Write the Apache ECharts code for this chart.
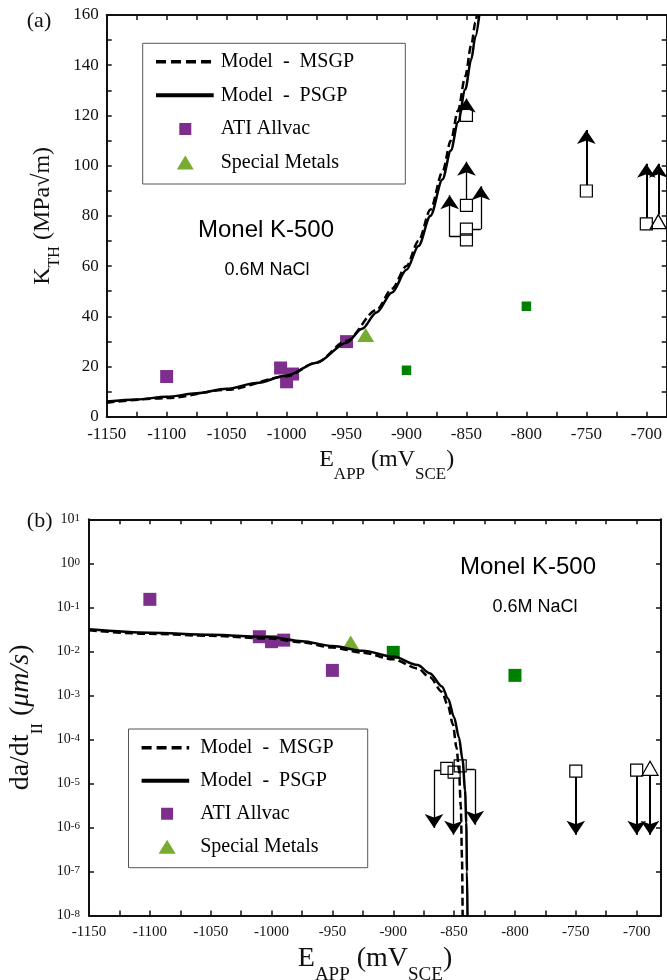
<!DOCTYPE html>
<html lang="en">
<head>
<meta charset="UTF-8">
<title>Monel K-500 - K_TH and da/dt_II vs E_APP</title>
<style>html,body{margin:0;padding:0;background:#fff;}</style>
</head>
<body>
<div id="main" style="width:667px;height:980px"></div>
<script src="https://cdn.jsdelivr.net/npm/echarts@6/dist/echarts.min.js"></script>
<script>
// ---------- panel (a): threshold K_TH vs applied potential ----------
var kMsgpX = [-1150, -1100, -1050, -1000, -975, -950, -925, -912, -900, -890, -880, -870, -863, -857, -851, -846, -842.5, -841.3];
var kMsgpY = [5.6, 7.4, 10.7, 16.1, 21.6, 30.2, 42.5, 51, 60, 70, 82.5, 97.5, 110, 122, 135.5, 148, 157, 160];
var kPsgpX = [-1150, -1125, -1100, -1075, -1050, -1025, -1000, -975, -950, -937, -925, -912, -900, -890, -880, -870, -863, -857, -851, -846, -842.5, -839.3];
var kPsgpY = [6.1, 6.9, 7.9, 9.3, 11.1, 13.4, 16.4, 21.5, 29.5, 35, 41.5, 49.5, 58.5, 68, 80, 94.5, 106, 117.4, 130.3, 142.3, 151.4, 160];

var kAllvacX = [-1100, -1005, -1000, -995, -950];
var kAllvacY = [16, 19.4, 13.9, 17, 29.9];
var kSpecialX = [-934];
var kSpecialY = [32.5];
var kGreenX = [-900, -800];
var kGreenY = [18.5, 44];
var kOpenX = [-850, -850, -850, -850, -750, -700];
var kOpenY = [120, 84.2, 74.7, 70.4, 89.9, 76.8];
var kOpenTriX = [-690];
var kOpenTriY = [77.7];

// run-out arrows (K_TH is a lower bound)
var kArrowX = [-850, -850, -864, -838, -750, -700, -690];
var kArrowFrom = [122.4, 86.6, 71.7, 74.7, 92.3, 79.2, 80.5];
var kArrowTo = [126.7, 101.5, 88.2, 91.8, 114.2, 100.8, 100.8];
var kLinkY = [71.7, 74.7];
var kLinkFrom = [-864, -845];
var kLinkTo = [-855, -838];

// ---------- panel (b): stage II crack growth rate ----------
var dMsgpX = [-1150, -1100, -1050, -1000, -975, -950, -925, -900, -880, -870, -860, -855, -851, -848, -846, -844.5, -843.5, -843];
var dMsgpY = [0.030, 0.025, 0.0225, 0.0195, 0.016, 0.0122, 0.0093, 0.0066, 0.0041, 0.0026, 0.0012, 5.8e-4, 2.2e-4, 6.5e-5, 2e-5, 3e-6, 2e-7, 1e-8];
var dPsgpX = [-1150, -1100, -1050, -1000, -975, -950, -925, -900, -880, -870, -860, -855, -850, -846, -843, -841, -840, -839.4, -839];
var dPsgpY = [0.0316, 0.0265, 0.0237, 0.021, 0.017, 0.0132, 0.0103, 0.0076, 0.0049, 0.0032, 0.0016, 8.5e-4, 3.2e-4, 1.1e-4, 3.4e-5, 7e-6, 1.3e-6, 1e-7, 1e-8];

var dAllvacX = [-1100, -1010, -1000, -990, -950];
var dAllvacY = [0.152, 0.0215, 0.0166, 0.018, 0.0037];
var dSpecialX = [-935];
var dSpecialY = [0.016];
var dGreenX = [-900, -800];
var dGreenY = [0.0095, 0.00285];
var dOpenX = [-856, -850, -845, -750, -700];
var dOpenY = [2.2e-5, 1.8e-5, 2.5e-5, 1.9e-5, 2e-5];
var dOpenTriX = [-689];
var dOpenTriY = [2.2e-5];

// arrows: growth rate is an upper bound
var dArrowX = [-866.5, -850.5, -833, -750, -700, -689];
var dArrowFrom = [2e-5, 1.3e-5, 2.1e-5, 1.4e-5, 1.45e-5, 1.5e-5];
var dArrowTo = [9.7e-7, 6.8e-7, 1.15e-6, 6.8e-7, 6.8e-7, 6.8e-7];
var dLinkY = [2e-5, 2.1e-5];
var dLinkFrom = [-866.5, -840];
var dLinkTo = [-861, -833];

// tick labels
var eLabels = [-1150, -1100, -1050, -1000, -950, -900, -850, -800, -750, -700];
var kLabels = [0, 20, 40, 60, 80, 100, 120, 140, 160];
var dExponents = [-8, -7, -6, -5, -4, -3, -2, -1, 0, 1];

var serif = 'Liberation Serif';
var ink = '#111';
var purple = '#7E2F8E';
var lime = '#77AC30';
var green = '#008000';

function pairs(xs, ys) {
    return xs.map(function (x, i) { return [x, ys[i]]; });
}
function vArrows(xs, from, to) {
    return xs.map(function (x, i) {
        // arrows in the -850 cluster are drawn thinner
        return { coords: [[x, from[i]], [x, to[i]]], lineStyle: { width: Math.abs(x + 850) < 20 ? 1.3 : 2 } };
    });
}
function hLinks(ys, from, to) {
    return ys.map(function (y, i) { return { coords: [[from[i], y], [to[i], y]] }; });
}

function xAx(grid, pos, max, fs, show) {
    return {
        type: 'value', gridIndex: grid, position: pos, min: -1150, max: max, interval: 25,
        axisLine: { onZero: false, lineStyle: { color: ink, width: 2 } },
        axisTick: { inside: true, length: 5, lineStyle: { color: ink, width: 1.5 } },
        axisLabel: {
            show: show, interval: 0, showMaxLabel: false, margin: 9,
            fontFamily: serif, fontSize: fs, color: ink,
            formatter: function (v) { return eLabels.indexOf(v) >= 0 ? String(v) : ''; }
        },
        splitLine: { show: false }
    };
}
function kAx(pos, show) {
    return {
        type: 'value', gridIndex: 0, position: pos, min: 0, max: 160, interval: 10,
        axisLine: { onZero: false, lineStyle: { color: ink, width: 2 } },
        axisTick: { inside: true, length: 5, lineStyle: { color: ink, width: 1.5 } },
        axisLabel: {
            show: show, interval: 0, margin: 8, fontFamily: serif, fontSize: 17, color: ink,
            formatter: function (v) { return kLabels.indexOf(v) >= 0 ? String(v) : ''; }
        },
        splitLine: { show: false }
    };
}
function dAx(pos, show) {
    return {
        type: 'log', logBase: 10, gridIndex: 1, position: pos, min: 1e-8, max: 10, splitNumber: 9,
        axisLine: { onZero: false, lineStyle: { color: ink, width: 2 } },
        axisTick: { inside: true, length: 5, lineStyle: { color: ink, width: 1.5 } },
        axisLabel: {
            show: show, margin: 9, color: ink,
            formatter: function (v) {
                var e = Math.round(Math.log10(v));
                return dExponents.indexOf(e) >= 0 ? '{b|10}{s|' + e + '}' : '';
            },
            rich: {
                b: { fontFamily: serif, fontSize: 14, lineHeight: 14, color: ink, verticalAlign: 'bottom', padding: [4, 0, 0, 0] },
                s: { fontFamily: serif, fontSize: 11, lineHeight: 11, color: ink, verticalAlign: 'top' }
            }
        },
        splitLine: { show: false },
        minorTick: { show: false }
    };
}

var xName = '{m|E}{s|APP}{m| (mV}{s|SCE}{m|)}';
// legend swatch for a line entry: no marker, only the stroke
var noMarker = { color: 'rgba(0,0,0,0)', borderColor: 'rgba(0,0,0,0)', borderWidth: 0, opacity: 0 };

var option = {
    animation: false,
    backgroundColor: '#fff',
    grid: [
        { left: 106.7, top: 15, width: 560, height: 401.7, outerBoundsMode: 'none' },
        { left: 89, top: 519.3, width: 572, height: 396.2, outerBoundsMode: 'none' }
    ],
    xAxis: [
        Object.assign(xAx(0, 'bottom', -683, 17, true), {
            name: xName, nameLocation: 'middle', nameGap: 31,
            nameTextStyle: { rich: {
                m: { fontFamily: serif, fontSize: 24, lineHeight: 24, color: ink, verticalAlign: 'top' },
                s: { fontFamily: serif, fontSize: 17, lineHeight: 17, color: ink, verticalAlign: 'top', padding: [18.7, 0, 0, 0] }
            } }
        }),
        xAx(0, 'top', -683, 17, false),
        Object.assign(xAx(1, 'bottom', -680, 15, true), {
            name: xName, nameLocation: 'middle', nameGap: 29,
            nameTextStyle: { rich: {
                m: { fontFamily: serif, fontSize: 28, lineHeight: 28, color: ink, verticalAlign: 'top' },
                s: { fontFamily: serif, fontSize: 19, lineHeight: 19, color: ink, verticalAlign: 'top', padding: [21.5, 0, 0, 0] }
            } }
        }),
        xAx(1, 'top', -680, 15, false)
    ],
    yAxis: [
        Object.assign(kAx('left', true), {
            name: '{m|K}{s|TH}{m| (MPa√m)}', nameLocation: 'middle', nameGap: 40,
            nameTextStyle: { rich: {
                m: { fontFamily: serif, fontSize: 24, lineHeight: 24, color: ink, verticalAlign: 'top' },
                s: { fontFamily: serif, fontSize: 16, lineHeight: 16, color: ink, verticalAlign: 'top', padding: [15.7, 0, 0, 0] }
            } }
        }),
        kAx('right', false),
        Object.assign(dAx('left', true), {
            name: '{m|da/dt}{s|II}{m| (}{i|μm/s}{m|)}', nameLocation: 'middle', nameGap: 39,
            nameTextStyle: { rich: {
                m: { fontFamily: serif, fontSize: 28, lineHeight: 28, color: ink, verticalAlign: 'top' },
                i: { fontFamily: serif, fontStyle: 'italic', fontSize: 28, lineHeight: 28, color: ink, verticalAlign: 'top' },
                s: { fontFamily: serif, fontSize: 17, lineHeight: 17, color: ink, verticalAlign: 'top', padding: [22.2, 0, 0, 0] }
            } }
        }),
        dAx('right', false)
    ],
    legend: [
        {
            left: 154, top: 51.7, orient: 'vertical', padding: 0, itemWidth: 57.7, itemHeight: 14, itemGap: 13.6,
            selectedMode: false, z: 10,
            textStyle: { fontFamily: serif, fontSize: 20, color: '#000', padding: [0, 0, 0, 2] },
            formatter: function (n) { return n.replace(' - ', '  -  '); },
            data: [
                { name: 'Model - MSGP', lineStyle: { color: '#000', width: 3.5, type: [10, 5] }, itemStyle: noMarker },
                { name: 'Model - PSGP', lineStyle: { color: '#000', width: 4 }, itemStyle: noMarker },
                { name: 'ATI Allvac', icon: 'path://M0,0L0.01,0ZM23.3,1L35.3,1L35.3,13L23.3,13ZM57.69,14L57.7,14Z' },
                { name: 'Special Metals', icon: 'path://M0,0L0.01,0ZM20.8,14L29.3,0L37.8,14ZM57.69,14L57.7,14Z' }
            ]
        },
        {
            left: 139.6, top: 737.7, orient: 'vertical', padding: 0, itemWidth: 47.6, itemHeight: 14, itemGap: 13,
            selectedMode: false, z: 10,
            textStyle: { fontFamily: serif, fontSize: 20, color: '#000', padding: [0, 0, 0, 6] },
            formatter: function (n) { return n.replace(' - ', '  -  '); },
            data: [
                { name: 'Model - MSGP', lineStyle: { color: '#000', width: 3.5, type: [10, 5] }, itemStyle: noMarker },
                { name: 'Model - PSGP', lineStyle: { color: '#000', width: 4 }, itemStyle: noMarker },
                { name: 'ATI Allvac', icon: 'path://M0,0L0.01,0ZM19.5,1L31.5,1L31.5,13L19.5,13ZM47.59,14L47.6,14Z' },
                { name: 'Special Metals', icon: 'path://M0,0L0.01,0ZM17,14L25.5,0L34,14ZM47.59,14L47.6,14Z' }
            ]
        }
    ],
    graphic: [
        { type: 'rect', z: 1, shape: { x: 142.7, y: 43.3, width: 262.6, height: 140.7 }, style: { fill: '#fff', stroke: '#555', lineWidth: 1 } },
        { type: 'rect', z: 1, shape: { x: 128.5, y: 729, width: 239.2, height: 138.7 }, style: { fill: '#fff', stroke: '#555', lineWidth: 1 } },
        { type: 'text', x: 39, y: 21.7, style: { text: '(a)', font: '22px "Liberation Serif"', fill: ink, align: 'center', verticalAlign: 'middle', textAlign: 'center', textVerticalAlign: 'middle' } },
        { type: 'text', x: 39.7, y: 521.7, style: { text: '(b)', font: '22px "Liberation Serif"', fill: ink, align: 'center', verticalAlign: 'middle', textAlign: 'center', textVerticalAlign: 'middle' } },
        { type: 'text', x: 266, y: 230, style: { text: 'Monel K-500', font: '24px "Liberation Sans"', fill: '#000', align: 'center', verticalAlign: 'middle', textAlign: 'center', textVerticalAlign: 'middle' } },
        { type: 'text', x: 267, y: 270, style: { text: '0.6M NaCl', font: '18px "Liberation Sans"', fill: '#000', align: 'center', verticalAlign: 'middle', textAlign: 'center', textVerticalAlign: 'middle' } },
        { type: 'text', x: 528, y: 567, style: { text: 'Monel K-500', font: '24px "Liberation Sans"', fill: '#000', align: 'center', verticalAlign: 'middle', textAlign: 'center', textVerticalAlign: 'middle' } },
        { type: 'text', x: 535, y: 606.7, style: { text: '0.6M NaCl', font: '18px "Liberation Sans"', fill: '#000', align: 'center', verticalAlign: 'middle', textAlign: 'center', textVerticalAlign: 'middle' } }
    ],
    series: []
};

function addPanel(xi, yi, d) {
    option.series.push(
        { name: 'Model - MSGP', type: 'line', xAxisIndex: xi, yAxisIndex: yi, data: d.msgp, symbol: 'none', showSymbol: false,
          smooth: 0.3, smoothMonotone: 'x', lineStyle: { color: '#000', width: 2.5, type: [8, 4] }, itemStyle: { color: '#000' } },
        { name: 'Model - PSGP', type: 'line', xAxisIndex: xi, yAxisIndex: yi, data: d.psgp, symbol: 'none', showSymbol: false,
          smooth: 0.3, smoothMonotone: 'x', lineStyle: { color: '#000', width: 2.5 }, itemStyle: { color: '#000' } },
        { name: 'ATI Allvac', type: 'scatter', xAxisIndex: xi, yAxisIndex: yi, data: d.allvac, symbol: 'rect', symbolSize: 13,
          itemStyle: { color: purple, opacity: 1 } },
        { name: 'Special Metals', type: 'scatter', xAxisIndex: xi, yAxisIndex: yi, data: d.special, symbol: 'triangle', symbolSize: [17, 14],
          itemStyle: { color: lime, opacity: 1 } },
        { name: 'Other heat', type: 'scatter', xAxisIndex: xi, yAxisIndex: yi, data: d.green, symbol: 'rect', symbolSize: d.greenSize,
          itemStyle: { color: green, opacity: 1 } },
        { name: 'Bound (square)', type: 'scatter', xAxisIndex: xi, yAxisIndex: yi, data: d.open, symbol: 'rect', symbolSize: 12,
          itemStyle: { color: 'rgba(0,0,0,0)', borderColor: '#000', borderWidth: 1.2, opacity: 1 } },
        { name: 'Bound (triangle)', type: 'scatter', xAxisIndex: xi, yAxisIndex: yi, data: d.openTri, symbol: 'triangle', symbolSize: [16, 14],
          itemStyle: { color: 'rgba(0,0,0,0)', borderColor: '#000', borderWidth: 1.2, opacity: 1 } },
        { name: 'Bound arrows', type: 'lines', coordinateSystem: 'cartesian2d', xAxisIndex: xi, yAxisIndex: yi, silent: true,
          symbol: ['none', 'arrow'], symbolSize: [9, 14], lineStyle: { color: '#000', width: 2, opacity: 1, curveness: 0 },
          data: d.arrows },
        { name: 'Bound links', type: 'lines', coordinateSystem: 'cartesian2d', xAxisIndex: xi, yAxisIndex: yi, silent: true,
          symbol: ['none', 'none'], lineStyle: { color: '#000', width: 1.3, opacity: 1, curveness: 0 },
          data: d.links }
    );
}

addPanel(0, 0, {
    msgp: pairs(kMsgpX, kMsgpY), psgp: pairs(kPsgpX, kPsgpY),
    allvac: pairs(kAllvacX, kAllvacY), special: pairs(kSpecialX, kSpecialY),
    green: pairs(kGreenX, kGreenY), greenSize: 9.5,
    open: pairs(kOpenX, kOpenY), openTri: pairs(kOpenTriX, kOpenTriY),
    arrows: vArrows(kArrowX, kArrowFrom, kArrowTo), links: hLinks(kLinkY, kLinkFrom, kLinkTo)
});
addPanel(2, 2, {
    msgp: pairs(dMsgpX, dMsgpY), psgp: pairs(dPsgpX, dPsgpY),
    allvac: pairs(dAllvacX, dAllvacY), special: pairs(dSpecialX, dSpecialY),
    green: pairs(dGreenX, dGreenY), greenSize: 13,
    open: pairs(dOpenX, dOpenY), openTri: pairs(dOpenTriX, dOpenTriY),
    arrows: vArrows(dArrowX, dArrowFrom, dArrowTo), links: hLinks(dLinkY, dLinkFrom, dLinkTo)
});

var myChart = echarts.init(document.getElementById('main'));
myChart.setOption(option);
</script>
</body>
</html>
